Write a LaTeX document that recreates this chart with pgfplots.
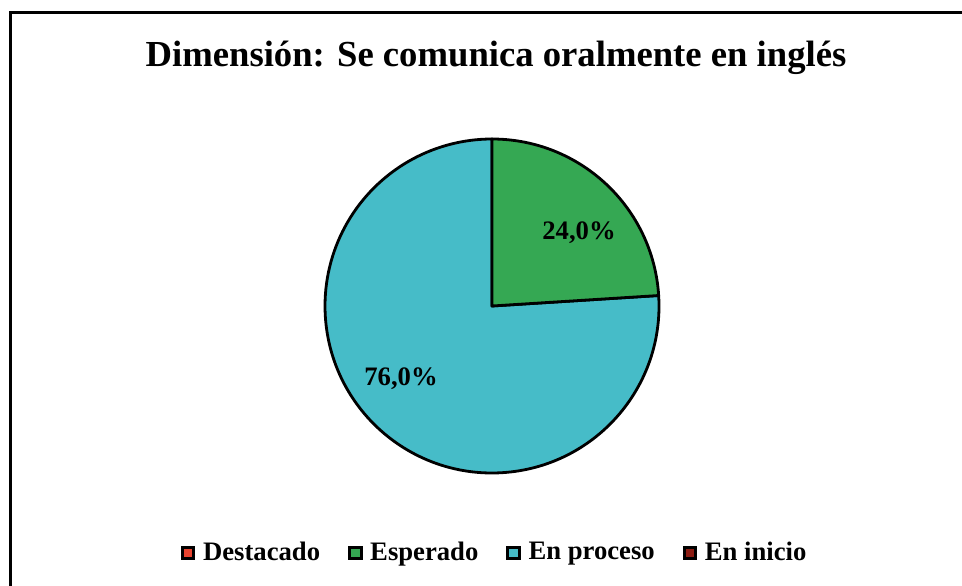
\documentclass[border=0pt]{standalone}
\usepackage{fontspec}
\setmainfont{Liberation Serif}
\usepackage{pgfplots}
\usepackage{pgfplotstable}
\pgfplotsset{compat=1.18}
\definecolor{cDest}{HTML}{E8432F}
\definecolor{cEsp}{HTML}{35A853}
\definecolor{cProc}{HTML}{46BCC8}
\definecolor{cIni}{HTML}{8C1C13}
\pgfplotstableread{
cat value
Destacado 0
Esperado 24
EnProceso 76
EnInicio 0
}\datatable
\begin{document}
\begin{tikzpicture}[x=0.75pt,y=0.75pt]
\useasboundingbox (0,0) rectangle (962,585);
\clip (0,0) rectangle (962,585);
\draw[line width=1.6pt] (10.5,-30) -- (10.5,572.5) -- (1000,572.5);
\node[font=\fontsize{27.5}{32}\selectfont\bfseries, anchor=base] at (496,518) {Dimensión: Se comunica oralmente en inglés};
\pgfplotstablegetelem{1}{value}\of\datatable \let\vEsp\pgfplotsretval
\pgfplotstablegetelem{2}{value}\of\datatable \let\vProc\pgfplotsretval
\pgfmathsetmacro\aEsp{90-3.6*\vEsp}
\pgfmathsetmacro\aProc{\aEsp-3.6*\vProc}
\begin{axis}[
  x=0.75pt, y=0.75pt, disabledatascaling,
  xmin=-492, xmax=470, ymin=-279, ymax=306,
  hide axis, clip=false,
  at={(492,279)}, anchor=origin,
  legend columns=4,
  legend style={at={(axis cs:3,-246)}, anchor=center, draw=none, fill=none,
    font=\fontsize{20}{24}\selectfont\bfseries,
    /tikz/every odd column/.append style={column sep=3.8pt},
    /tikz/every even column/.append style={column sep=19pt},
    nodes={inner xsep=2pt, inner ysep=2pt}},
  legend image code/.code={\filldraw[line width=2.2pt, draw=black] (0pt,-5.2pt) rectangle (8.6pt,3.4pt);},
]
\addlegendimage{fill=cDest}
\addlegendentry{Destacado}
\addlegendimage{fill=cEsp}
\addlegendentry{Esperado}
\addlegendimage{fill=cProc}
\addlegendentry{En proceso}
\addlegendimage{fill=cIni}
\addlegendentry{En inicio}
\filldraw[fill=cProc, draw=black, line width=2.1pt, line join=round]
  (axis cs:0,0) -- ++(\aEsp:125.25pt) arc[start angle=\aEsp, end angle=\aProc, radius=125.25pt] -- cycle;
\filldraw[fill=cEsp, draw=black, line width=2.1pt, line join=round]
  (axis cs:0,0) -- ++(90:125.25pt) arc[start angle=90, end angle=\aEsp, radius=125.25pt] -- cycle;
\node[font=\fontsize{20}{24}\selectfont\bfseries] at (axis cs:87,73.5) {24,0\%};
\node[font=\fontsize{20}{24}\selectfont\bfseries] at (axis cs:-91,-73) {76,0\%};
\end{axis}
\end{tikzpicture}
\end{document}
